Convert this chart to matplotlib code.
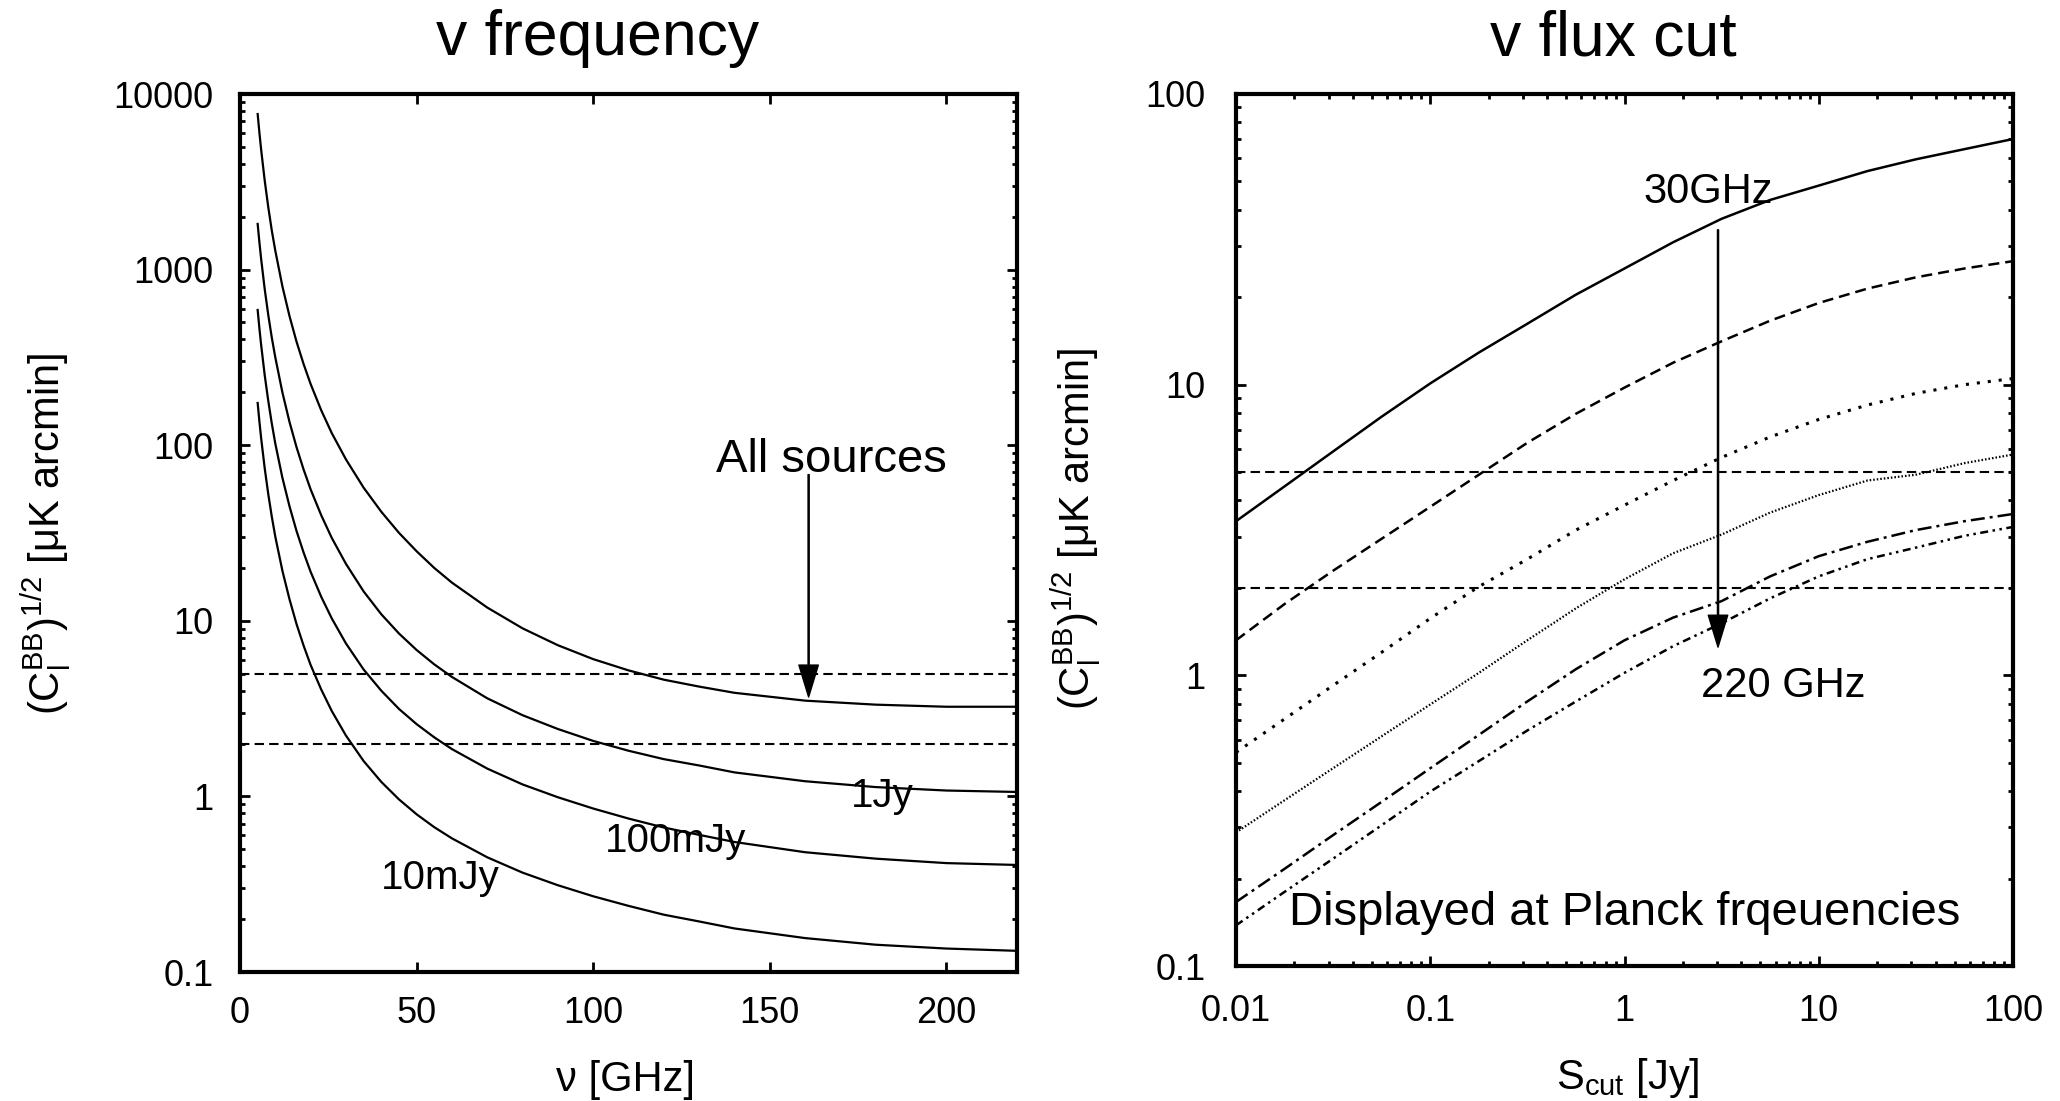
"""
Two-panel figure: point-source B-mode residual vs frequency and vs flux cut.

Writes out.png (2060 x 1101).
"""

import matplotlib
matplotlib.use("Agg")
import matplotlib.pyplot as plt
from matplotlib import font_manager
from matplotlib.ticker import FixedLocator, LogLocator, FuncFormatter, NullLocator

plt.rcParams["font.family"] = ["Liberation Sans", "DejaVu Sans"]
plt.rcParams["mathtext.fontset"] = "custom"
plt.rcParams["mathtext.rm"] = "Liberation Sans"
plt.rcParams["mathtext.it"] = "Liberation Sans"
plt.rcParams["mathtext.bf"] = "Liberation Sans:bold"
plt.rcParams["mathtext.default"] = "regular"

# tick numbers in the original are set in a condensed sans
_installed = {f.name for f in font_manager.fontManager.ttflist}
if "Liberation Sans Narrow" in _installed:
    TICK_FAMILY, TICK_SIZE = "Liberation Sans Narrow", 30
else:
    TICK_FAMILY, TICK_SIZE = "Liberation Sans", 26

# -----------------------------------------------------------------------------
# Left panel: (C_l^BB)^1/2 vs frequency for several flux cuts
# -----------------------------------------------------------------------------
NU = [5, 5.5, 6, 7, 8, 9, 10, 12, 14, 16, 18, 20, 23, 26, 30, 35, 40, 45,
      50, 55, 60, 70, 80, 90, 100, 110, 120, 130, 140, 160, 180, 200, 220]

ALL_SOURCES = [7690, 6000, 4790, 3210, 2270, 1670, 1280, 804, 545, 389, 290,
               223, 158, 117, 83.0, 57.3, 41.8, 31.7, 24.9, 20.0, 16.5, 11.9,
               9.06, 7.26, 6.05, 5.22, 4.62, 4.22, 3.89, 3.51, 3.33, 3.24,
               3.24]
CUT_1JY = [1820, 1426, 1143, 773, 552, 410, 316, 200, 136, 97.5, 72.8, 56.0,
           39.9, 29.6, 21.1, 14.7, 10.9, 8.47, 6.82, 5.65, 4.79, 3.62, 2.90,
           2.42, 2.07, 1.82, 1.63, 1.50, 1.37, 1.22, 1.13, 1.08, 1.06]
CUT_100MJY = [589, 461, 370, 250, 179, 133, 102, 65.3, 45.0, 32.5, 24.5,
              19.0, 13.7, 10.3, 7.43, 5.28, 4.00, 3.15, 2.58, 2.17, 1.86,
              1.44, 1.17, 0.989, 0.853, 0.748, 0.665, 0.604, 0.550, 0.481,
              0.442, 0.417, 0.407]
CUT_10MJY = [174, 136, 109, 73.8, 52.7, 39.2, 30.1, 19.3, 13.3, 9.59, 7.23,
             5.60, 4.06, 3.06, 2.22, 1.59, 1.21, 0.962, 0.791, 0.668, 0.577,
             0.450, 0.368, 0.312, 0.270, 0.238, 0.212, 0.194, 0.177, 0.156,
             0.143, 0.136, 0.132]

# -----------------------------------------------------------------------------
# Right panel: (C_l^BB)^1/2 vs flux cut at Planck frequencies
# -----------------------------------------------------------------------------
S_CUT = [0.01, 0.0178, 0.0316, 0.0562, 0.1, 0.178, 0.316, 0.562, 1.0, 1.78,
         3.16, 5.62, 10.0, 17.8, 31.6, 56.2, 100.0]

F030 = [3.39, 4.47, 5.89, 7.76, 10.1, 12.9, 16.2, 20.4, 25.1, 30.9, 37.2,
        43.2, 48.4, 54.3, 59.6, 64.6, 70.0]
F044 = [1.32, 1.76, 2.29, 2.95, 3.80, 4.90, 6.31, 7.94, 9.77, 11.9, 14.1,
        16.6, 19.1, 21.4, 23.4, 25.1, 26.6]
F070 = [0.543, 0.708, 0.923, 1.20, 1.57, 2.02, 2.51, 3.16, 3.85, 4.68, 5.62,
        6.61, 7.59, 8.51, 9.33, 10.0, 10.5]
F100 = [0.288, 0.372, 0.479, 0.617, 0.794, 1.02, 1.32, 1.70, 2.14, 2.63,
        3.05, 3.63, 4.17, 4.68, 4.90, 5.37, 5.75]
F143 = [0.166, 0.216, 0.282, 0.367, 0.479, 0.624, 0.813, 1.05, 1.32, 1.58,
        1.80, 2.19, 2.57, 2.88, 3.16, 3.39, 3.59]
F217 = [0.138, 0.180, 0.234, 0.305, 0.398, 0.507, 0.646, 0.813, 1.02, 1.26,
        1.51, 1.84, 2.19, 2.51, 2.75, 3.02, 3.24]

# reference levels (dashed)
LEVELS = [5.0, 2.0]

YLABEL = r"$(C_l^{BB})^{1/2}$ [μK arcmin]"
LABEL_SIZE = 30


def style_axes(ax, xpad, ypad):
    for s in ax.spines.values():
        s.set_linewidth(3)
    ax.tick_params(which="both", direction="in", top=True, right=True,
                   width=2, labelsize=TICK_SIZE, labelfontfamily=TICK_FAMILY)
    ax.tick_params(which="major", length=7.5)
    ax.tick_params(which="minor", length=3.8)
    ax.tick_params(axis="x", pad=xpad)
    ax.tick_params(axis="y", pad=ypad)


fig = plt.figure(figsize=(20.6, 11.01), dpi=100)

# ---- left ----
ax1 = fig.add_axes([240 / 2060, 1 - 972 / 1101, 777 / 2060, 878 / 1101])
for y in (ALL_SOURCES, CUT_1JY, CUT_100MJY, CUT_10MJY):
    ax1.plot(NU, y, color="black", lw=1.6)
for lev in LEVELS:
    ax1.axhline(lev, color="black", lw=1.5, dashes=(4.5, 2.5))

ax1.set_xlim(0, 220)
ax1.set_yscale("log")
ax1.set_ylim(0.1, 10000)
ax1.xaxis.set_major_locator(FixedLocator([0, 50, 100, 150, 200]))
ax1.xaxis.set_minor_locator(NullLocator())
ax1.yaxis.set_major_locator(LogLocator(base=10))
ax1.yaxis.set_minor_locator(LogLocator(base=10, subs=range(2, 10)))
ax1.yaxis.set_major_formatter(FuncFormatter(lambda v, p: f"{v:g}"))
style_axes(ax1, xpad=17, ypad=19)

ax1.text(167.6, 70, "All sources", fontsize=34, ha="center", va="baseline")
ax1.annotate("", xy=(161, 3.68), xytext=(161, 68),
             arrowprops=dict(width=0.8, headwidth=14, headlength=23,
                             color="black", shrink=0))
ax1.text(181.8, 0.871, "1Jy", fontsize=29, ha="center", va="baseline")
ax1.text(123.4, 0.482, "100mJy", fontsize=29, ha="center", va="baseline")
ax1.text(56.6, 0.297, "10mJy", fontsize=29, ha="center", va="baseline")

# ---- right ----
ax2 = fig.add_axes([1236 / 2060, 1 - 966 / 1101, 777 / 2060, 872 / 1101])
ax2.plot(S_CUT, F030, color="black", lw=1.8)
ax2.plot(S_CUT, F044, color="black", lw=1.8, dashes=(4.4, 2.4))
ax2.plot(S_CUT, F070, color="black", lw=2.2, dashes=(1.0, 2.6))
ax2.plot(S_CUT, F100, color="black", lw=1.6, dashes=(0.7, 0.9))
ax2.plot(S_CUT, F143, color="black", lw=1.8, dashes=(5.6, 2.0, 1.2, 2.0))
ax2.plot(S_CUT, F217, color="black", lw=1.8,
         dashes=(3.2, 1.8, 1.0, 1.8, 1.0, 1.8))
for lev in LEVELS:
    ax2.axhline(lev, color="black", lw=1.5, dashes=(4.5, 2.5))

ax2.set_xscale("log")
ax2.set_yscale("log")
ax2.set_xlim(0.01, 100)
ax2.set_ylim(0.1, 100)
for axis in (ax2.xaxis, ax2.yaxis):
    axis.set_major_locator(LogLocator(base=10))
    axis.set_minor_locator(LogLocator(base=10, subs=range(2, 10)))
    axis.set_major_formatter(FuncFormatter(lambda v, p: f"{v:g}"))
style_axes(ax2, xpad=20, ypad=22)

ax2.text(2.69, 42.2, "30GHz", fontsize=30, ha="center", va="baseline")
ax2.annotate("", xy=(3.03, 1.25), xytext=(3.03, 34.1),
             arrowprops=dict(width=0.8, headwidth=14, headlength=23,
                             color="black", shrink=0))
ax2.text(6.55, 0.841, "220 GHz", fontsize=30, ha="center", va="baseline")
ax2.text(1.0, 0.138, "Displayed at Planck frqeuencies", fontsize=34,
         ha="center", va="baseline")

# ---- titles and axis labels (figure coordinates) ----
fig.text(598 / 2060, 1 - 55 / 1101, "v frequency", fontsize=45,
         ha="center", va="baseline")
fig.text(1613 / 2060, 1 - 55 / 1101, "v flux cut", fontsize=45,
         ha="center", va="baseline")

fig.text(625 / 2060, 1 - 1080 / 1101, "ν [GHz]", fontsize=LABEL_SIZE,
         ha="center", va="center")
fig.text(1628 / 2060, 1 - 1078 / 1101, r"S$_{cut}$ [Jy]", fontsize=LABEL_SIZE,
         ha="center", va="center")

fig.text(46 / 2060, 1 - 534 / 1101, YLABEL, fontsize=LABEL_SIZE,
         rotation=90, ha="center", va="center")
fig.text(1076 / 2060, 1 - 529 / 1101, YLABEL, fontsize=LABEL_SIZE,
         rotation=90, ha="center", va="center")

fig.savefig("out.png", dpi=100)
